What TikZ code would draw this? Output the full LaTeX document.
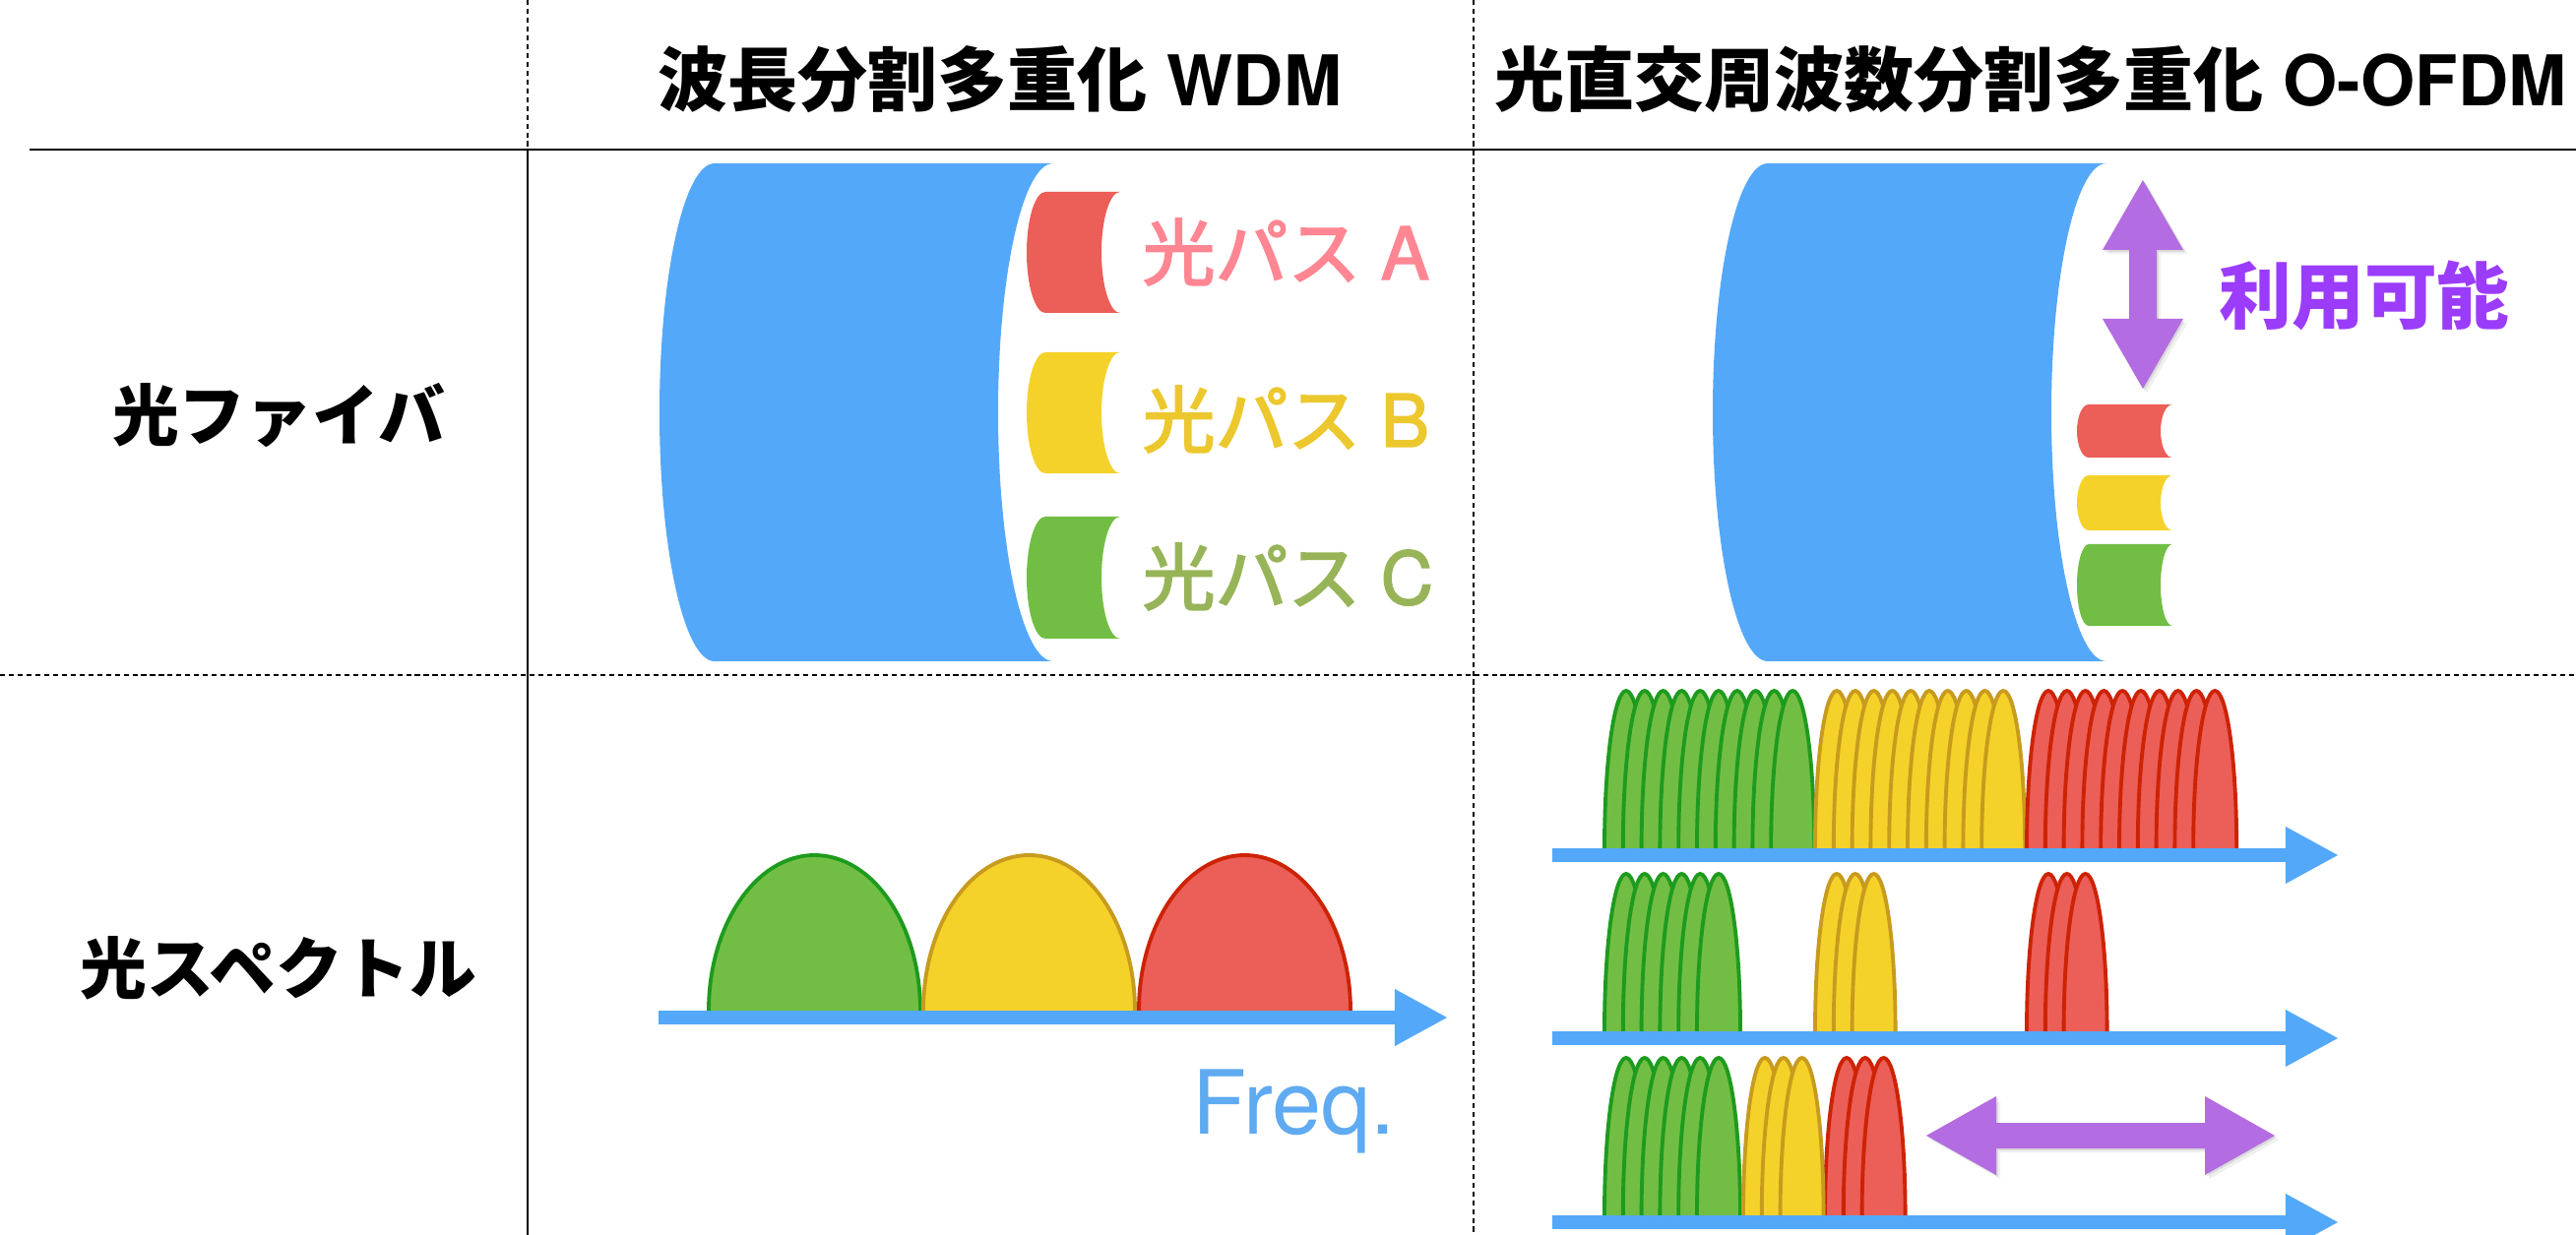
\documentclass[tikz,border=0pt]{standalone}
\usepackage{fontspec}
\setmainfont{TeX Gyre Heros}
\newfontfamily\jpfont{Noto Sans CJK JP}
\newfontfamily\jpmedium{Noto Sans CJK JP}[FakeBold=2.5]
\newfontfamily\latmedium{TeX Gyre Heros}[FakeBold=2]
\usetikzlibrary{arrows.meta,shadows}

\definecolor{fiberblue}{HTML}{54A8F9}
\definecolor{redfill}{HTML}{EC5E58}
\definecolor{redline}{HTML}{CD2305}
\definecolor{yellowfill}{HTML}{F5D22A}
\definecolor{yellowline}{HTML}{C89B1E}
\definecolor{greenfill}{HTML}{72BE44}
\definecolor{greenline}{HTML}{1E9B1E}
\definecolor{pathpink}{HTML}{FF8692}
\definecolor{pathyellow}{HTML}{ECC82E}
\definecolor{patholive}{HTML}{98B458}
\definecolor{arrowpurple}{HTML}{B36CE1}
\definecolor{textpurple}{HTML}{9B3CFA}
\definecolor{freqblue}{HTML}{5FAAF0}

\newcommand{\wdmx}{0}
\newcommand{\ofdmx}{1070}

\tikzset{
  % fibre drawn as a cylinder seen from the side
  pics/cyl/.style args={#1/#2/#3}{code={
    \path[pic actions] (0,0) -- (#1,0)
      arc[start angle=90, end angle=270, x radius=#3, y radius=#2/2]
      -- (0,-#2)
      arc[start angle=270, end angle=90, x radius=#3, y radius=#2/2] -- cycle;
  }},
  % one spectral hump, width/height/colour
  pics/hump/.style args={#1/#2/#3}{code={
    \fill[#3fill] (0,0) arc[start angle=180, end angle=0, x radius=#1/2, y radius=#2] -- cycle;
    \draw[#3line, line width=1.1pt] (0,0) arc[start angle=180, end angle=0, x radius=#1/2, y radius=#2];
  }},
  rule/.style={line width=0.75pt},
  colsep/.style={line width=0.6pt},
  dashsep/.style={line width=0.7pt, dash pattern=on 1.45pt off 1.1pt},
  freqaxis/.style={fiberblue, line width=3.7pt, -{Triangle[length=0.54cm, width=0.54cm]}},
  header/.style={anchor=base, font=\fontsize{20.2pt}{24pt}\selectfont\bfseries},
  rowlabel/.style={anchor=base, font=\jpfont\fontsize{19.3pt}{23pt}\selectfont\bfseries},
  pathlabel/.style={anchor=base west, inner sep=0pt, font=\latmedium\fontsize{21pt}{25pt}\selectfont},
  availarrow/.style={fill=arrowpurple,
    drop shadow={shadow xshift=0.5pt, shadow yshift=-0.5pt, opacity=0.2},
    drop shadow={shadow xshift=1.2pt, shadow yshift=-1.2pt, opacity=0.12}},
}

\begin{document}
\begin{tikzpicture}[x=0.01cm, y=0.01cm]
\useasboundingbox (0,0) rectangle (2617,-1255);

% table
\draw[rule] (30,-152) -- (2617,-152);
\draw[dashsep] (536,0) -- (536,-152);
\draw[colsep] (536,-152) -- (536,-1255);
\draw[dashsep] (1497,0) -- (1497,-1255);
\draw[dashsep] (0,-686) -- (2617,-686);

\node[header] (hdrwdm) at (1016,-108) {{\jpfont 波長分割多重化} WDM};
\node[header] (hdrofdm) at (2063,-108) {{\jpfont 光直交周波数分割多重化} O-OFDM};
\node[rowlabel] (rowfiber) at (283,-448) {光ファイバ};
\node[rowlabel] (rowspectrum) at (283,-1009) {光スペクトル};

%% fibre, WDM
\pic[fill=fiberblue] at (\wdmx+726,-166) {cyl=344/506/56};
\pic[fill=redfill] at (1062,-195) {cyl=76/123/19};
\pic[fill=yellowfill] at (1062,-358) {cyl=76/123/19};
\pic[fill=greenfill] at (1062,-525) {cyl=76/124/19};
\node[pathlabel, text=pathpink] (pathA) at (1160,-284) {{\jpmedium 光パス} A};
\node[pathlabel, text=pathyellow] (pathB) at (1160,-454) {{\jpmedium 光パス} B};
\node[pathlabel, text=patholive] (pathC) at (1160,-614) {{\jpmedium 光パス} C};

%% fibre, O-OFDM
\pic[fill=fiberblue] at (\ofdmx+726,-166) {cyl=344/506/56};
\pic[fill=redfill] at (2122,-411) {cyl=85/54/12};
\pic[fill=yellowfill] at (2122,-483) {cyl=85/56/12};
\pic[fill=greenfill] at (2122,-553) {cyl=85/83/12};
\fill[availarrow] (2177,-183) -- (2218,-254) -- (2191,-254) -- (2191,-324) -- (2218,-324)
  -- (2177,-395) -- (2136,-324) -- (2163,-324) -- (2163,-254) -- (2136,-254) -- cycle;
\node[anchor=base west, text=textpurple, font=\jpfont\fontsize{21pt}{25pt}\selectfont\bfseries]
  (avail) at (2242,-329) {利用可能};

%% spectrum, WDM
\pic at (720,-1027) {hump=215/158/green};
\pic at (938,-1027) {hump=215/158/yellow};
\pic at (1157,-1027) {hump=215/158/red};
\draw[freqaxis] (669,-1034) -- (1471,-1034);
\node[anchor=base west, inner sep=0pt, text=freqblue, font=\fontsize{25.6pt}{30pt}\selectfont]
  (freq) at (1211,-1152) {Freq.};

%% spectrum, O-OFDM
% all subcarriers
\foreach \i in {0,...,9}
  \pic at ({1630+18.8*\i},-862) {hump=44/160/green};
\foreach \i in {0,...,9}
  \pic at ({1844+18.8*\i},-862) {hump=44/160/yellow};
\foreach \i in {0,...,9}
  \pic at ({2059+18.8*\i},-862) {hump=44/160/red};
\draw[freqaxis] (1577,-869) -- (2376,-869);

% subcarriers in use
\foreach \i in {0,...,5}
  \pic at ({1630+18.8*\i},-1048) {hump=44/160/green};
\foreach \i in {0,...,2}{
  \pic at ({1844+18.8*\i},-1048) {hump=44/160/yellow};
  \pic at ({2059+18.8*\i},-1048) {hump=44/160/red};}
\draw[freqaxis] (1577,-1055) -- (2376,-1055);

% packed together
\foreach \i in {0,...,5}
  \pic at ({1630+18.8*\i},-1235) {hump=44/160/green};
\foreach \i in {0,...,2}{
  \pic at ({1771+18.8*\i},-1235) {hump=44/160/yellow};
  \pic at ({1854+18.8*\i},-1235) {hump=44/160/red};}
\draw[freqaxis] (1577,-1242) -- (2376,-1242);
\fill[availarrow] (1957,-1154) -- (2028,-1114) -- (2028,-1141) -- (2240,-1141) -- (2240,-1114)
  -- (2311,-1154) -- (2240,-1194) -- (2240,-1167) -- (2028,-1167) -- (2028,-1194) -- cycle;

\end{tikzpicture}
\end{document}
